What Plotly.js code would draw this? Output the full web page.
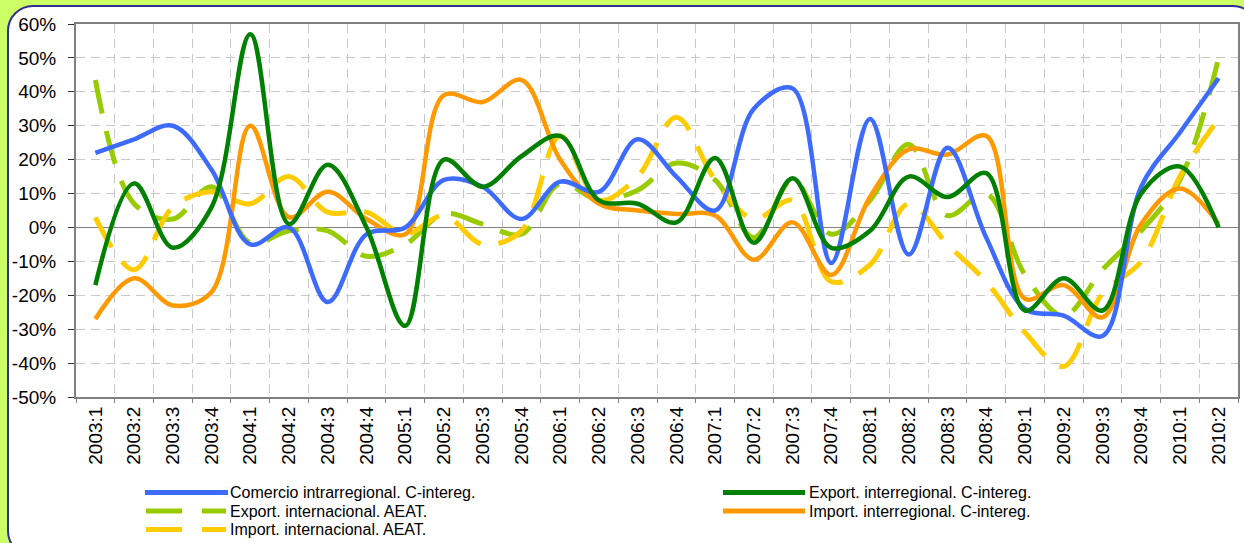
<!DOCTYPE html>
<html>
<head>
<meta charset="utf-8">
<script src="https://cdn.plot.ly/plotly-3.0.1.min.js"></script>
<style>
  html, body { margin:0; padding:0; width:1244px; height:543px; overflow:hidden; background:#CCFF66; }
  #panel { position:absolute; left:7px; top:5px; width:1252px; height:552px; box-sizing:border-box;
           border:2px solid #2E3192; border-radius:26px; background:#ffffff; }
  #chart { position:absolute; left:0; top:0; width:1244px; height:543px; }
</style>
</head>
<body>
<div id="panel"></div>
<div id="chart"></div>
<script>
// ---- data ----
const quarters = ['2003:1','2003:2','2003:3','2003:4','2004:1','2004:2','2004:3','2004:4',
  '2005:1','2005:2','2005:3','2005:4','2006:1','2006:2','2006:3','2006:4',
  '2007:1','2007:2','2007:3','2007:4','2008:1','2008:2','2008:3','2008:4',
  '2009:1','2009:2','2009:3','2009:4','2010:1','2010:2'];

const seriesNames = ['Comercio intrarregional. C-intereg.', 'Export. interregional. C-intereg.',
  'Export. internacional. AEAT.', 'Import. interregional. C-intereg.', 'Import. internacional. AEAT.'];

const comercioIntra = [22, 26, 30, 17, -5, 0, -22, -2, 0, 14, 12, 2.5, 13.5, 10.5, 26, 15,
  5, 35, 41, -10.5, 32, -8, 23.5, -3, -24, -26, -32, 12, 28, 44];
const exportInter = [-17, 13, -6, 6, 57, 1, 18.5, 0, -29, 20, 12, 21, 27, 8, 7, 1.5,
  20.5, -4.5, 14.5, -6, -1, 15, 9, 16, -24.5, -15, -24.5, 10, 18, 0];
const exportIntl = [43.5, 7, 2.5, 12, -4.5, -1, -1, -8.5, -5, 4, 1, -2, 13, 8, 11, 19,
  14, -3, 14, -2, 8, 24.5, 3.5, 10, -14, -26, -12.5, -1, 14, 50];
const importInter = [-27, -15, -23, -19, 30, 3, 10.5, 2.5, -2, 39, 37, 43.5, 20, 7, 5, 4,
  3.5, -9.5, 1.5, -14, 9, 23, 21.5, 27, -21, -17, -26.5, 1, 11.5, 1];
const importIntl = [3, -12.5, 6, 10.5, 7, 15, 4.5, 4.5, -2, 3.5, -5, -1, 27, 8, 15, 32.5,
  14, 2.5, 8, -16, -11, 7, -5, -16, -31, -41, -19.5, -10, 15, 32];

const yTickVals = [-50, -40, -30, -20, -10, 0, 10, 20, 30, 40, 50, 60];
const yTickText = ['-50%', '-40%', '-30%', '-20%', '-10%', '0%', '10%', '20%', '30%', '40%', '50%', '60%'];

// ---- styles ----
const colors = ['#3D6BFF', '#008000', '#99CC00', '#FF9900', '#FFCC00'];
const dashes = ['solid', 'solid', '34px,18px', 'solid', '34px,18px'];
const widths = [4.5, 4.5, 5, 4.5, 5];
const values = [comercioIntra, exportInter, exportIntl, importInter, importIntl];

const order = [2, 4, 3, 0, 1];
const traces = order.map(i => ({
  type: 'scatter', mode: 'lines', x: quarters, y: values[i], name: seriesNames[i],
  line: { color: colors[i], width: widths[i], dash: dashes[i], shape: 'spline', smoothing: 1 },
  showlegend: false, hoverinfo: 'x+y+name'
}));

// ---- plot geometry (pixels) ----
const W = 1244, H = 543, L = 76, R = 6, T = 24, B = 146;
const pw = W - L - R, ph = H - T - B;
const px = X => (X - L) / pw;
const py = Y => (H - B - Y) / ph;

// manual legend (two columns)
const legendItems = [
  { i: 0, x0: 145, x1: 228, y: 492.5, tx: 229 },
  { i: 1, x0: 723, x1: 805, y: 492.5, tx: 808 },
  { i: 2, x0: 146, x1: 226, y: 511, tx: 229 },
  { i: 3, x0: 723, x1: 805, y: 511, tx: 808 },
  { i: 4, x0: 146, x1: 226, y: 529.5, tx: 229 }
];
const shapes = legendItems.map(it => ({
  type: 'line', xref: 'paper', yref: 'paper',
  x0: px(it.x0), x1: px(it.x1), y0: py(it.y), y1: py(it.y),
  line: { color: colors[it.i], width: 5, dash: it.i === 2 || it.i === 4 ? '36px,20px' : 'solid' }
}));
const fontFam = 'Liberation Sans, Arial, sans-serif';
const annotations = legendItems.map(it => ({
  xref: 'paper', yref: 'paper', x: px(it.tx), y: py(it.y), xanchor: 'left', yanchor: 'middle',
  text: seriesNames[it.i], showarrow: false, borderpad: 0,
  font: { family: fontFam, size: 16, color: '#000' }
}));

const layout = {
  width: W, height: H,
  margin: { l: L, r: R, t: T, b: B, pad: 0 },
  paper_bgcolor: 'rgba(0,0,0,0)', plot_bgcolor: '#ffffff',
  font: { family: fontFam, size: 19, color: '#000' },
  xaxis: {
    type: 'category', range: [-0.5, quarters.length - 0.5],
    tickson: 'boundaries', tickangle: -90, ticks: 'outside', ticklen: 4, tickcolor: '#808080',
    showgrid: true, gridcolor: '#C8C8C8', gridwidth: 1, griddash: '9px,6px',
    showline: true, linecolor: '#808080', linewidth: 2, mirror: true,
    tickfont: { family: fontFam, size: 19, color: '#000' }, fixedrange: true
  },
  yaxis: {
    range: [-50, 60], tickmode: 'array', tickvals: yTickVals, ticktext: yTickText,
    ticks: 'outside', ticklen: 6, tickcolor: '#333', ticklabelstandoff: 8,
    showgrid: true, gridcolor: '#C8C8C8', gridwidth: 1, griddash: '9px,6px',
    zeroline: true, zerolinecolor: '#808080', zerolinewidth: 1.5,
    showline: true, linecolor: '#808080', linewidth: 2, mirror: true,
    tickfont: { family: fontFam, size: 19, color: '#000' }, fixedrange: true
  },
  shapes: shapes,
  annotations: annotations,
  showlegend: false
};

Plotly.newPlot('chart', traces, layout, { displayModeBar: false, staticPlot: true });
</script>
</body>
</html>
